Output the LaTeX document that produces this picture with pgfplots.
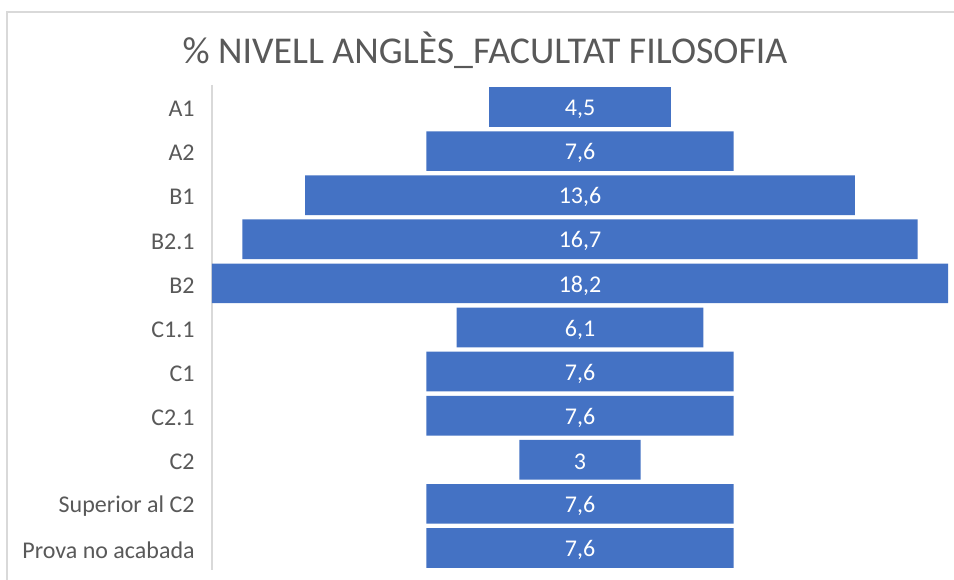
\documentclass[border=0pt]{standalone}
\usepackage{pgfplots}
\pgfplotsset{compat=1.18}
\usepackage{pgfplotstable}
\usepackage{fontspec}
\setmainfont{Carlito}

\definecolor{barblue}{HTML}{4472C4}
\definecolor{txtgray}{HTML}{595959}
\definecolor{framegray}{HTML}{D9D9D9}

% level index (top to bottom) and percentage
\pgfplotstableread{
y v
0 4.5
1 7.6
2 13.6
3 16.7
4 18.2
5 6.1
6 7.6
7 7.6
8 3
9 7.6
10 7.6
}\nivells

\pgfplotsset{funnel/.style={
    at={(ll)}, anchor=south west,
    scale only axis,
    width=552pt, height=363.75pt,
    xmin=0, xmax=18.2,
    ymin=-0.5, ymax=10.5,
    y dir=reverse,
    clip=false,
}}

\begin{document}
\begin{tikzpicture}[x=0.75pt,y=0.75pt]
\useasboundingbox (0,0) rectangle (954,580);
\fill[white] (0,0) rectangle (954,580);
\draw[framegray, line width=1pt] (7,0) -- (7,568) -- (954,568);

\node[txtgray, font=\fontsize{28.4}{32}\selectfont] at (485,530) {\% NIVELL ANGLÈS\_FACULTAT FILOSOFIA};

\coordinate (ll) at (212,10);
\begin{axis}[
    funnel,
    hide x axis,
    axis y line*=left,
    y axis line style={framegray, line width=1pt, -},
    ytick={0,...,10},
    yticklabels={A1,A2,B1,B2.1,B2,C1.1,C1,C2.1,C2,Superior al C2,Prova no acabada},
    major tick length=0pt,
    yticklabel style={font=\fontsize{18}{20}\selectfont, text=txtgray, xshift=-9.5pt, yshift=-1.5pt},
    xbar stacked, bar width=0.9,
]
% invisible offset that centres each bar (funnel)
\addplot[draw=none, fill=none] table[x expr=(18.2-\thisrow{v})/2, y=y] {\nivells};
\addplot[fill=barblue, draw=none] table[x=v, y=y] {\nivells};
\end{axis}

% value labels, centred on the bars
\begin{axis}[funnel, hide axis]
\addplot[draw=none, mark=none,
    nodes near coords, point meta=explicit,
    nodes near coords style={anchor=center, yshift=-1.5pt, text=white, font=\fontsize{18}{20}\selectfont,
        /pgf/number format/assume math mode=true,
        /pgf/number format/use comma, /pgf/number format/precision=1}]
    table[x expr=9.1, y=y, meta=v] {\nivells};
\end{axis}
\end{tikzpicture}
\end{document}
